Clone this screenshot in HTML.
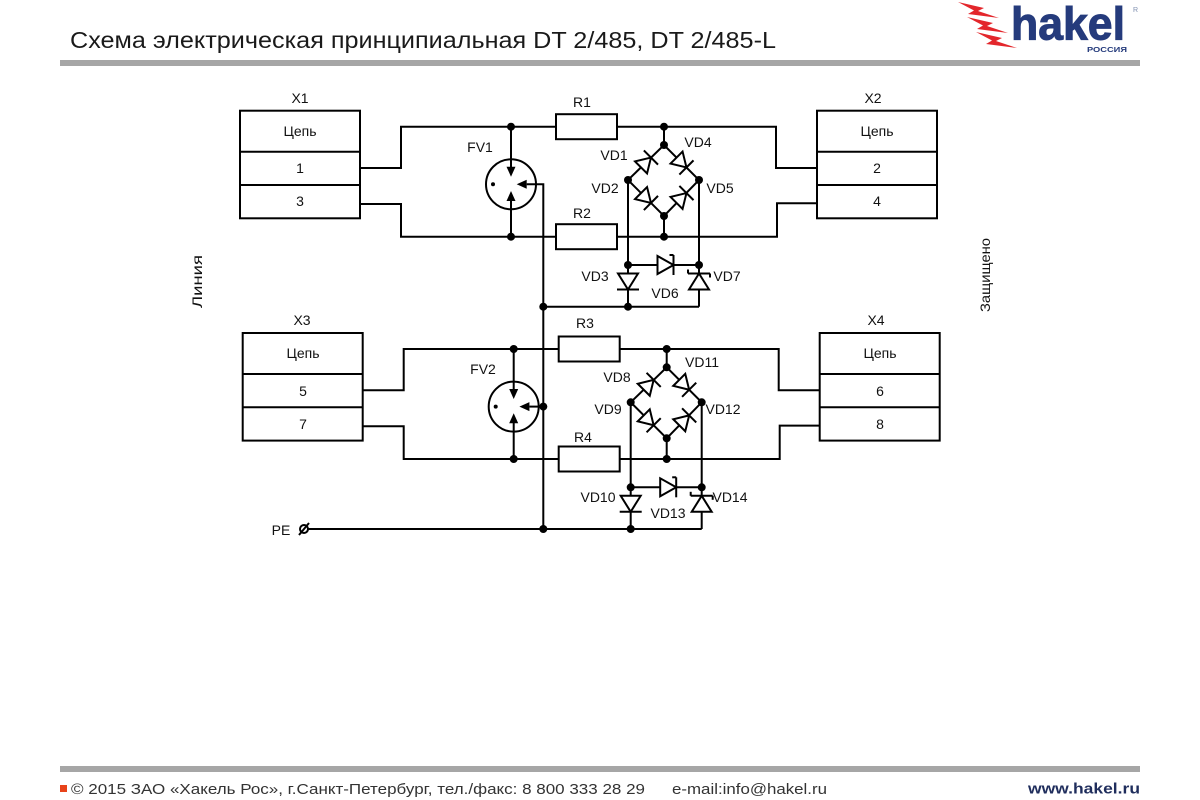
<!DOCTYPE html>
<html>
<head>
<meta charset="utf-8">
<style>
html,body{margin:0;padding:0;background:#fff;}
svg{display:block;}
text{font-family:"Liberation Sans","DejaVu Sans",sans-serif;}
</style>
</head>
<body>
<svg width="1200" height="800" viewBox="0 0 1200 800" xmlns="http://www.w3.org/2000/svg">
<rect x="0" y="0" width="1200" height="800" fill="#fff"/>

<!-- Header -->
<text x="70" y="48" font-size="23" fill="#1a1a1a" textLength="706" lengthAdjust="spacingAndGlyphs">Схема электрическая принципиальная DT 2/485, DT 2/485-L</text>
<rect x="60" y="60" width="1080" height="6" fill="#a6a6a6"/>

<!-- Logo bolts -->
<g fill="#e3262b">
  <polygon points="958,2 984,8 978,11 999,18 968,14 974,10.5"/>
  <polygon points="967,17 993,23 987,26 1008,33 977,29 983,25.5"/>
  <polygon points="976,32 1002,38 996,41 1017,48 986,44 992,40.5"/>
</g>
<text x="1011" y="39.5" font-size="46" font-weight="bold" fill="#253b7c" stroke="#253b7c" stroke-width="1" textLength="114" lengthAdjust="spacingAndGlyphs" style="font-family:'Liberation Sans Narrow','Liberation Sans',sans-serif">hakel</text>
<text x="1087" y="52" font-size="7.5" font-weight="bold" fill="#253b7c" textLength="40" lengthAdjust="spacingAndGlyphs">РОССИЯ</text>
<text x="1133" y="12" font-size="7" fill="#8090b0">R</text>

<!-- Circuit wiring -->
<g fill="none" stroke="#000" stroke-width="2">
  <!-- TOP HALF -->
  <g>
    <rect x="240" y="110.7" width="120" height="107.6"/>
    <line x1="240" y1="151.7" x2="360" y2="151.7"/>
    <line x1="240" y1="185" x2="360" y2="185"/>
    <rect x="817" y="110.7" width="120" height="107.6"/>
    <line x1="817" y1="151.7" x2="937" y2="151.7"/>
    <line x1="817" y1="185" x2="937" y2="185"/>

    <polyline points="360,168 401,168 401,126.7 556,126.7"/>
    <polyline points="617,126.7 776,126.7 776,168 817,168"/>
    <polyline points="360,204 401,204 401,236.7 556,236.7"/>
    <polyline points="617,236.7 777,236.7 777,203.3 817,203.3"/>
    <rect x="556" y="114.2" width="61" height="25"/>
    <rect x="556" y="224.2" width="61" height="25"/>

    <circle cx="511" cy="184.3" r="25"/>
    <line x1="511" y1="126.7" x2="511" y2="168"/>
    <line x1="511" y1="236.7" x2="511" y2="200"/>
    <polygon points="506.5,166.7 515.5,166.7 511,176.7" fill="#000" stroke="none"/>
    <polygon points="506.5,201 515.5,201 511,191" fill="#000" stroke="none"/>
    <polygon points="526.7,179.8 526.7,188.8 516.7,184.3" fill="#000" stroke="none"/>
    <circle cx="493" cy="184.3" r="2" fill="#000" stroke="none"/>

    <line x1="664" y1="126.7" x2="664" y2="145"/>
    <polyline points="628,180 664,145 699,180 664,216 628,180"/>
    <line x1="664" y1="216" x2="664" y2="236.7"/>
    <line x1="628" y1="180" x2="628" y2="306.7"/>
    <line x1="699" y1="180" x2="699" y2="306.7"/>
    <line x1="628" y1="265" x2="699" y2="265"/>

    <g transform="translate(646,162.5) rotate(-45)"><polygon points="-7,-8.5 -7,8.5 7,0" fill="#fff"/><line x1="7" y1="-10" x2="7" y2="10"/></g>
    <g transform="translate(681.5,162.5) rotate(45)"><polygon points="-7,-8.5 -7,8.5 7,0" fill="#fff"/><line x1="7" y1="-10" x2="7" y2="10"/></g>
    <g transform="translate(646,198) rotate(45)"><polygon points="-7,-8.5 -7,8.5 7,0" fill="#fff"/><line x1="7" y1="-10" x2="7" y2="10"/></g>
    <g transform="translate(681.5,198) rotate(-45)"><polygon points="-7,-8.5 -7,8.5 7,0" fill="#fff"/><line x1="7" y1="-10" x2="7" y2="10"/></g>

    <g transform="translate(665.5,265)"><polygon points="-8,-9 -8,9 8,0" fill="#fff"/><line x1="8" y1="-10" x2="8" y2="10"/><line x1="8" y1="-10" x2="4" y2="-10"/></g>
    <g transform="translate(628,281.5) rotate(90)"><polygon points="-8,-10 -8,10 8,0" fill="#fff"/><line x1="8" y1="-11" x2="8" y2="11"/></g>
    <g transform="translate(699,281.5) rotate(-90)"><polygon points="-8,-10 -8,10 8,0" fill="#fff"/><line x1="8" y1="-11" x2="8" y2="11"/><line x1="8" y1="11" x2="4" y2="11"/><line x1="8" y1="-11" x2="12" y2="-11"/></g>

    <g fill="#000" stroke="none">
      <circle cx="511" cy="126.7" r="4"/>
      <circle cx="511" cy="236.7" r="4"/>
      <circle cx="664" cy="126.7" r="4"/>
      <circle cx="664" cy="145" r="4"/>
      <circle cx="628" cy="180" r="4"/>
      <circle cx="699" cy="180" r="4"/>
      <circle cx="664" cy="216" r="4"/>
      <circle cx="664" cy="236.7" r="4"/>
      <circle cx="628" cy="265" r="4"/>
      <circle cx="699" cy="265" r="4"/>
    </g>
  </g>

  <!-- BOTTOM HALF -->
  <g transform="translate(2.7,222.3)">
    <rect x="240" y="110.7" width="120" height="107.6"/>
    <line x1="240" y1="151.7" x2="360" y2="151.7"/>
    <line x1="240" y1="185" x2="360" y2="185"/>
    <rect x="817" y="110.7" width="120" height="107.6"/>
    <line x1="817" y1="151.7" x2="937" y2="151.7"/>
    <line x1="817" y1="185" x2="937" y2="185"/>

    <polyline points="360,168 401,168 401,126.7 556,126.7"/>
    <polyline points="617,126.7 776,126.7 776,168 817,168"/>
    <polyline points="360,204 401,204 401,236.7 556,236.7"/>
    <polyline points="617,236.7 777,236.7 777,203.3 817,203.3"/>
    <rect x="556" y="114.2" width="61" height="25"/>
    <rect x="556" y="224.2" width="61" height="25"/>

    <circle cx="511" cy="184.3" r="25"/>
    <line x1="511" y1="126.7" x2="511" y2="168"/>
    <line x1="511" y1="236.7" x2="511" y2="200"/>
    <polygon points="506.5,166.7 515.5,166.7 511,176.7" fill="#000" stroke="none"/>
    <polygon points="506.5,201 515.5,201 511,191" fill="#000" stroke="none"/>
    <polygon points="526.7,179.8 526.7,188.8 516.7,184.3" fill="#000" stroke="none"/>
    <circle cx="493" cy="184.3" r="2" fill="#000" stroke="none"/>

    <line x1="664" y1="126.7" x2="664" y2="145"/>
    <polyline points="628,180 664,145 699,180 664,216 628,180"/>
    <line x1="664" y1="216" x2="664" y2="236.7"/>
    <line x1="628" y1="180" x2="628" y2="306.7"/>
    <line x1="699" y1="180" x2="699" y2="306.7"/>
    <line x1="628" y1="265" x2="699" y2="265"/>

    <g transform="translate(646,162.5) rotate(-45)"><polygon points="-7,-8.5 -7,8.5 7,0" fill="#fff"/><line x1="7" y1="-10" x2="7" y2="10"/></g>
    <g transform="translate(681.5,162.5) rotate(45)"><polygon points="-7,-8.5 -7,8.5 7,0" fill="#fff"/><line x1="7" y1="-10" x2="7" y2="10"/></g>
    <g transform="translate(646,198) rotate(45)"><polygon points="-7,-8.5 -7,8.5 7,0" fill="#fff"/><line x1="7" y1="-10" x2="7" y2="10"/></g>
    <g transform="translate(681.5,198) rotate(-45)"><polygon points="-7,-8.5 -7,8.5 7,0" fill="#fff"/><line x1="7" y1="-10" x2="7" y2="10"/></g>

    <g transform="translate(665.5,265)"><polygon points="-8,-9 -8,9 8,0" fill="#fff"/><line x1="8" y1="-10" x2="8" y2="10"/><line x1="8" y1="-10" x2="4" y2="-10"/></g>
    <g transform="translate(628,281.5) rotate(90)"><polygon points="-8,-10 -8,10 8,0" fill="#fff"/><line x1="8" y1="-11" x2="8" y2="11"/></g>
    <g transform="translate(699,281.5) rotate(-90)"><polygon points="-8,-10 -8,10 8,0" fill="#fff"/><line x1="8" y1="-11" x2="8" y2="11"/><line x1="8" y1="11" x2="4" y2="11"/><line x1="8" y1="-11" x2="12" y2="-11"/></g>

    <g fill="#000" stroke="none">
      <circle cx="511" cy="126.7" r="4"/>
      <circle cx="511" cy="236.7" r="4"/>
      <circle cx="664" cy="126.7" r="4"/>
      <circle cx="664" cy="145" r="4"/>
      <circle cx="628" cy="180" r="4"/>
      <circle cx="699" cy="180" r="4"/>
      <circle cx="664" cy="216" r="4"/>
      <circle cx="664" cy="236.7" r="4"/>
      <circle cx="628" cy="265" r="4"/>
      <circle cx="699" cy="265" r="4"/>
    </g>
  </g>

  <!-- shared trunk / ground -->
  <polyline points="526.7,184.3 543.3,184.3 543.3,529"/>
  <line x1="529.4" y1="406.6" x2="543.3" y2="406.6"/>
  <line x1="543.3" y1="306.7" x2="699" y2="306.7"/>
  <line x1="308" y1="529" x2="701.7" y2="529"/>
  <circle cx="304" cy="529" r="4"/>
  <line x1="299" y1="535" x2="309" y2="523"/>
  <g fill="#000" stroke="none">
    <circle cx="543.3" cy="306.7" r="4"/>
    <circle cx="628" cy="306.7" r="4"/>
    <circle cx="543.3" cy="406.6" r="4"/>
    <circle cx="543.3" cy="529" r="4"/>
    <circle cx="630.7" cy="529" r="4"/>
  </g>
</g>

<!-- Labels -->
<g font-size="14" fill="#111" text-anchor="middle">
  <text x="300" y="103">X1</text>
  <text x="873" y="103">X2</text>
  <text x="300" y="136">Цепь</text>
  <text x="877" y="136">Цепь</text>
  <text x="300" y="173">1</text>
  <text x="300" y="206">3</text>
  <text x="877" y="173">2</text>
  <text x="877" y="206">4</text>
  <text x="480" y="152">FV1</text>
  <text x="582" y="107">R1</text>
  <text x="582" y="218">R2</text>
  <text x="614" y="160">VD1</text>
  <text x="698" y="147">VD4</text>
  <text x="605" y="193">VD2</text>
  <text x="720" y="193">VD5</text>
  <text x="595" y="281">VD3</text>
  <text x="665" y="298">VD6</text>
  <text x="727" y="281">VD7</text>

  <text x="302" y="325">X3</text>
  <text x="876" y="325">X4</text>
  <text x="303" y="358">Цепь</text>
  <text x="880" y="358">Цепь</text>
  <text x="303" y="396">5</text>
  <text x="303" y="429">7</text>
  <text x="880" y="396">6</text>
  <text x="880" y="429">8</text>
  <text x="483" y="374">FV2</text>
  <text x="585" y="328">R3</text>
  <text x="583" y="442">R4</text>
  <text x="617" y="382">VD8</text>
  <text x="702" y="367">VD11</text>
  <text x="608" y="414">VD9</text>
  <text x="723" y="414">VD12</text>
  <text x="598" y="502">VD10</text>
  <text x="668" y="518">VD13</text>
  <text x="730" y="502">VD14</text>
  <text x="281" y="535">PE</text>
</g>

<!-- side labels -->
<text transform="translate(202,281.5) rotate(-90)" font-size="14" fill="#111" text-anchor="middle" textLength="53" lengthAdjust="spacingAndGlyphs">Линия</text>
<text transform="translate(990,275) rotate(-90)" font-size="14" fill="#111" text-anchor="middle" textLength="74" lengthAdjust="spacingAndGlyphs">Защищено</text>

<!-- Footer -->
<rect x="60" y="766" width="1080" height="6" fill="#a6a6a6"/>
<rect x="60" y="785" width="7" height="7" fill="#e8431a"/>
<text x="71" y="794" font-size="14.5" fill="#333" textLength="574" lengthAdjust="spacingAndGlyphs">© 2015 ЗАО «Хакель Рос», г.Санкт-Петербург, тел./факс: 8 800 333 28 29</text>
<text x="672" y="794" font-size="14.5" fill="#333" textLength="155" lengthAdjust="spacingAndGlyphs">e-mail:info@hakel.ru</text>
<text x="1028" y="793.5" font-size="15" font-weight="bold" fill="#1f2d5c" textLength="112" lengthAdjust="spacingAndGlyphs">www.hakel.ru</text>
</svg>
</body>
</html>
